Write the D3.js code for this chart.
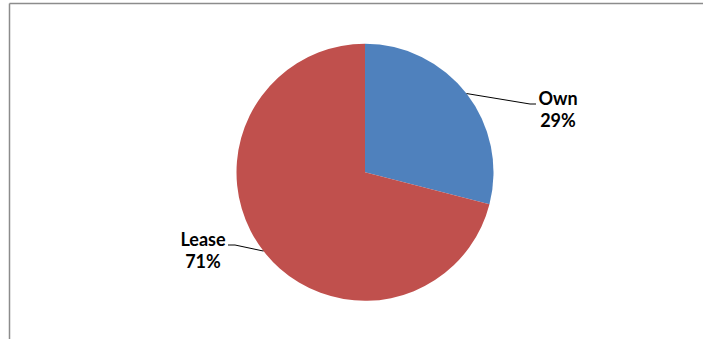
<!DOCTYPE html>
<html>
<head>
<meta charset="utf-8">
<script src="https://cdn.jsdelivr.net/npm/d3@7"></script>
<style>
  html, body { margin: 0; padding: 0; background: #fff; }
  svg { display: block; }
</style>
</head>
<body>
<svg id="chart" width="703" height="339"></svg>
<script>
// Share of facilities by tenure
const categories = ["Own", "Lease"];
const shares = [29, 71];
const colors = ["#4F81BD", "#C0504D"];

const svg = d3.select("#chart");
const W = 703, H = 339;
const cx = 365, cy = 172.3, r = 128.5;

// Chart area frame (top and left edges visible)
svg.append("line").attr("x1", 9.5).attr("y1", 3.5).attr("x2", W).attr("y2", 3.5)
  .attr("stroke", "#8c8c8c").attr("stroke-width", 1.5);
svg.append("line").attr("x1", 9.5).attr("y1", 3.5).attr("x2", 9.5).attr("y2", H)
  .attr("stroke", "#8c8c8c").attr("stroke-width", 1.5);

const data = categories.map((c, i) => ({ name: c, value: shares[i], color: colors[i] }));

const pie = d3.pie().value(d => d.value).sort(null);
const arc = d3.arc().innerRadius(0).outerRadius(r);
const arcs = pie(data);

const g = svg.append("g").attr("transform", `translate(${cx},${cy})`);
g.selectAll("path").data(arcs).enter().append("path")
  .attr("d", arc)
  .attr("fill", d => d.data.color);

// Label placement: text centre and leader line end for each slice
const labelPos = {
  Own:   { tx: 558, ty: 98.5, elbow: [530, 104], lineEnd: [536, 104] },
  Lease: { tx: 203, ty: 240,  elbow: [235, 245], lineEnd: [228, 245] }
};

arcs.forEach(a => {
  const p = labelPos[a.data.name];
  // leader starts on the rim at the slice's mid-angle
  const ang = (a.startAngle + a.endAngle) / 2;
  const ax = cx + Math.sin(ang) * r;
  const ay = cy - Math.cos(ang) * r;
  svg.append("polyline")
    .attr("points", [[ax, ay], p.elbow, p.lineEnd].map(q => q.join(",")).join(" "))
    .attr("fill", "none").attr("stroke", "#000").attr("stroke-width", 1);

  const t = svg.append("text")
    .attr("x", p.tx).attr("y", p.ty)
    .attr("text-anchor", "middle")
    .attr("font-family", "Lato, 'Open Sans', sans-serif")
    .attr("font-weight", "bold")
    .attr("font-size", 18)
    .attr("fill", "#000");
  t.append("tspan").attr("x", p.tx).attr("dy", "0.35em").text(a.data.name);
  t.append("tspan").attr("x", p.tx).attr("dy", 22).text(a.data.value + "%");
});
</script>
</body>
</html>
